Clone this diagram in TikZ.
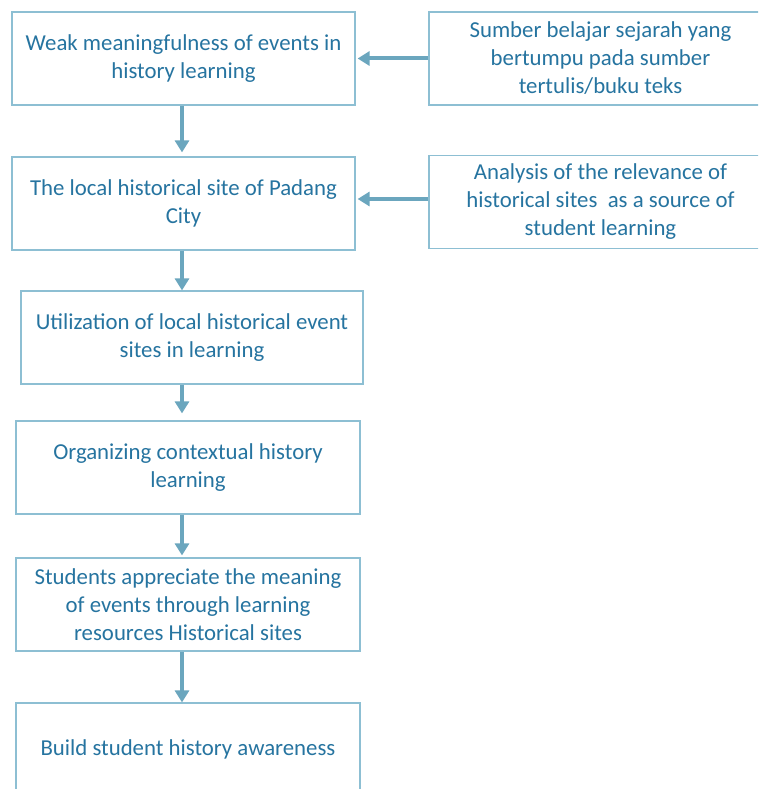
\documentclass[tikz,border=0pt]{standalone}
\usepackage{fontspec}
\setmainfont{Carlito}
\usetikzlibrary{arrows.meta}
\definecolor{txt}{HTML}{2674A0}
\definecolor{bord}{HTML}{8DBFD3}
\definecolor{arrc}{HTML}{6BA6BE}
\begin{document}
\begin{tikzpicture}[x=1pt,y=-1pt,
  box/.style={draw=bord,line width=1.2pt,fill=white,text=txt,align=center,
    font=\fontsize{22.8}{28}\selectfont,inner sep=0pt,minimum height=93pt},
  arr/.style={draw=arrc,line width=4pt,-{Triangle[width=14pt,length=12pt]}}]
\useasboundingbox (0,0) rectangle (758,789);
\clip (0,0) rectangle (758,789);
\fill[white] (0,0) rectangle (758,789);
\node[box,minimum width=343pt] (b1) at (183.5,58.5) {Weak meaningfulness of events in\\history learning};
\node[box,minimum width=343pt] (r1) at (600.5,58.5) {Sumber belajar sejarah yang\\bertumpu pada sumber\\tertulis/buku teks};
\node[box,minimum width=343pt] (b2) at (183.5,203.5) {The local historical site of Padang\\City};
\node[box,minimum width=343pt] (r2) at (600.5,202) {Analysis of the relevance of\\historical sites\ \ as a source of\\student learning};
\node[box,minimum width=342pt] (b3) at (192,337.5) {Utilization of local historical event\\sites in learning};
\node[box,minimum width=344pt] (b4) at (188,467.5) {Organizing contextual history\\learning};
\node[box,minimum width=344pt] (b5) at (188,604.5) {Students appreciate the meaning\\of events through learning\\resources Historical sites};
\node[box,minimum width=344pt] (b6) at (188,749.5) {Build student history awareness};
\draw[arr,shorten >=4pt] (b1.south -| 182,0) -- (b2.north -| 182,0);
\draw[arr] (b2.south -| 182,0) -- (b3.north -| 182,0);
\draw[arr,shorten >=7pt] (b3.south -| 182,0) -- (b4.north -| 182,0);
\draw[arr,shorten >=2pt] (b4.south -| 182,0) -- (b5.north -| 182,0);
\draw[arr] (b5.south -| 182,0) -- (b6.north -| 182,0);
\draw[arr,shorten >=2pt] (r1.west) -- (b1.east);
\draw[arr,shorten >=2pt] (r2.west |- 0,199) -- (b2.east |- 0,199);
\end{tikzpicture}
\end{document}
